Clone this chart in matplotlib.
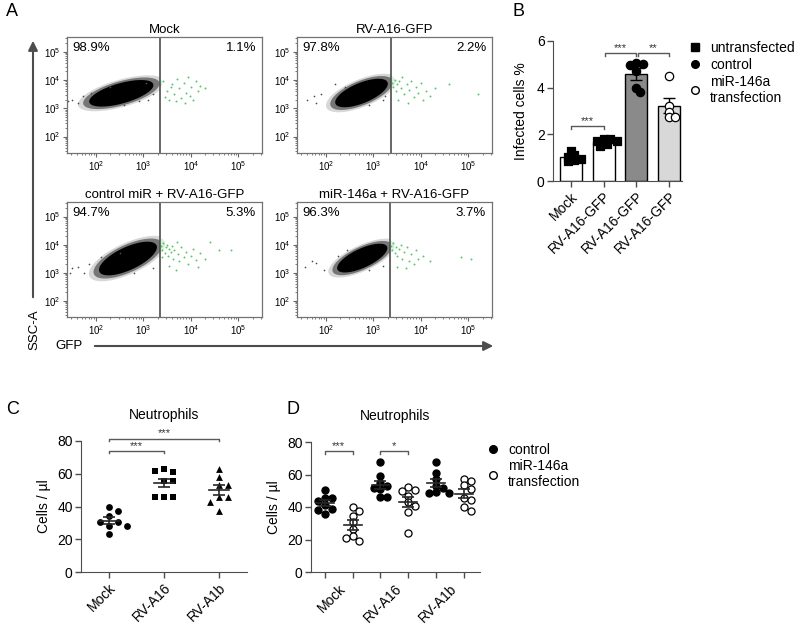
import numpy as np
import matplotlib
matplotlib.use('Agg')
import matplotlib.pyplot as plt
from matplotlib.lines import Line2D
from matplotlib.patches import Rectangle, FancyArrowPatch

plt.rcParams['font.family'] = ['Liberation Sans', 'DejaVu Sans']
plt.rcParams['mathtext.fontset'] = 'custom'
plt.rcParams['mathtext.rm'] = 'Liberation Sans'
plt.rcParams['mathtext.it'] = 'Liberation Sans'

# ---- panel A: flow plots (log10 units) ----
flow_titles = ["Mock", "RV-A16-GFP", "control miR + RV-A16-GFP", "miR-146a + RV-A16-GFP"]
neg_pct = ["98.9%", "97.8%", "94.7%", "96.3%"]
pos_pct = ["1.1%", "2.2%", "5.3%", "3.7%"]
gate_x = [3.34, 3.38, 3.34, 3.34]
# cloud outline: tail point, head point, vertical half thickness
cloud_tail = [(1.62, 3.14), (2.0, 3.1), (1.85, 2.96), (2.05, 3.04)]
cloud_head = [(3.45, 3.92), (3.5, 3.98), (3.5, 4.05), (3.48, 4.0)]
cloud_half = [0.5, 0.52, 0.6, 0.5]

green_x = [
    [3.42, 3.5, 3.55, 3.6, 3.65, 3.7, 3.75, 3.8, 3.85, 3.9, 3.95, 4.0, 4.05, 4.1, 4.15, 4.2, 3.45, 3.58, 3.88, 4.3, 3.68, 3.98],
    [3.4, 3.42, 3.45, 3.48, 3.5, 3.55, 3.58, 3.6, 3.65, 3.7, 3.75, 3.8, 3.85, 3.9, 3.95, 4.0, 4.05, 4.1, 4.2, 4.3, 3.52, 3.72, 5.2, 4.6],
    [3.38, 3.4, 3.42, 3.45, 3.47, 3.5, 3.52, 3.55, 3.58, 3.6, 3.62, 3.65, 3.7, 3.72, 3.75, 3.8, 3.85, 3.9, 3.95, 4.0,
     4.05, 4.1, 4.15, 4.2, 4.3, 3.55, 3.68, 3.4, 4.6, 4.85, 4.4],
    [3.38, 3.4, 3.42, 3.45, 3.48, 3.5, 3.55, 3.58, 3.6, 3.65, 3.7, 3.75, 3.8, 3.85, 3.9, 3.95, 3.5, 3.68, 4.05, 4.2, 4.85, 5.05],
]
green_y = [
    [3.95, 3.6, 3.3, 3.85, 3.5, 4.05, 3.7, 3.35, 3.9, 3.55, 4.1, 3.75, 3.3, 3.95, 3.6, 3.8, 3.4, 3.75, 3.2, 3.7, 3.25, 3.45],
    [3.9, 3.75, 4.0, 3.6, 3.85, 3.95, 3.7, 4.1, 3.5, 3.85, 3.65, 3.95, 3.4, 3.75, 3.55, 3.9, 3.3, 3.6, 3.45, 3.7, 3.3, 3.2, 3.5, 3.85],
    [3.95, 3.8, 4.05, 3.7, 3.9, 4.0, 3.6, 3.85, 3.75, 3.95, 3.5, 3.8, 4.1, 3.65, 3.4, 3.9, 3.55, 3.75, 3.3, 3.6,
     3.85, 3.45, 3.2, 3.7, 3.5, 3.25, 3.1, 3.55, 3.8, 3.8, 4.1],
    [3.95, 3.8, 4.05, 3.7, 3.9, 3.6, 3.85, 4.0, 3.5, 3.75, 3.9, 3.4, 3.65, 3.3, 3.8, 3.5, 3.2, 3.15, 3.6, 3.4, 3.55, 3.5],
]
stray_x = [
    [1.42, 1.5, 1.62, 1.72, 3.1, 3.2, 2.6, 2.9, 1.9, 2.3, 3.05],
    [1.6, 1.75, 1.8, 1.9, 3.2, 2.9, 2.4, 3.25, 2.2],
    [1.45, 1.5, 1.62, 1.75, 1.85, 3.2, 2.8, 2.5, 2.1],
    [1.55, 1.7, 1.8, 1.95, 3.2, 2.9, 2.45, 2.25],
]
stray_y = [
    [3.25, 3.3, 3.18, 3.45, 3.3, 3.5, 3.1, 3.25, 3.55, 3.75, 3.9],
    [3.3, 3.45, 3.2, 3.5, 3.3, 3.1, 3.75, 3.45, 3.85],
    [3.0, 3.15, 3.2, 3.0, 3.3, 3.15, 3.0, 3.7, 3.55],
    [3.2, 3.4, 3.35, 3.1, 3.25, 3.1, 3.8, 3.6],
]

# ---- panel B ----
b_labels = ["Mock", "RV-A16-GFP", "RV-A16-GFP", "RV-A16-GFP"]
b_means = [1.02, 1.68, 4.59, 3.22]
b_sem = [0.07, 0.05, 0.24, 0.32]
b_points = [
    [1.28, 1.1, 1.05, 0.95, 0.9, 0.85],
    [1.8, 1.78, 1.72, 1.7, 1.6, 1.5],
    [5.07, 5.0, 4.96, 4.71, 4.0, 3.81],
    [4.5, 3.2, 2.95, 2.75, 2.75],
]
b_legend = ["untransfected", "control", "miR-146a\ntransfection"]

# ---- panel C ----
c_labels = ["Mock", "RV-A16", "RV-A1b"]
c_points = [
    [40, 37, 34, 30.5, 30.5, 28, 28, 23],
    [63, 61, 61.5, 55.5, 55.5, 46, 46, 46],
    [63, 58, 53, 53, 46, 46, 43, 37.5],
]

# ---- panel D ----
d_labels = ["Mock", "RV-A16", "RV-A1b"]
d_control = [
    [50.5, 45.5, 45.5, 43.5, 41, 39, 38, 36],
    [68, 59, 55, 53, 52, 51, 46, 46],
    [68, 61, 57.5, 53, 51.5, 49.5, 48.5, 48.5],
]
d_mir = [
    [40, 37.5, 34.5, 31, 26.5, 22, 19, 21],
    [52.5, 50.5, 50, 47, 43, 40.5, 37, 24],
    [57.5, 56, 53.5, 51, 45.5, 44.5, 40, 37.5],
]
d_legend = ["control", "miR-146a\ntransfection"]

W, H = 800, 625


def fx(px):
    return px / W


def fy(py):
    return 1 - py / H


def cloud_layer(ax, tail, head, half, scale, color, alpha, clip):
    t = np.linspace(0, 2 * np.pi, 120)
    c = (np.array(tail) + np.array(head)) / 2
    u = (np.array(head) - np.array(tail)) / 2 * scale
    poly, = ax.fill(c[0] + np.cos(t) * u[0], c[1] + np.cos(t) * u[1] + np.sin(t) * half * scale,
                    color=color, alpha=alpha, lw=0)
    poly.set_clip_path(clip)


def swarm(vals, dx, dy):
    placed = []
    offs = []
    cands = [0.0]
    for i in range(1, 12):
        cands += [i * dx / 2, -i * dx / 2]
    for v in vals:
        for o in cands:
            if all(((o - po) / dx) ** 2 + ((v - pv) / dy) ** 2 >= 1 for po, pv in placed):
                break
        placed.append((o, v))
        offs.append(o)
    return np.array(offs)


def bracket(ax, x1, x2, y, txt, tick):
    ax.plot([x1, x1, x2, x2], [y - tick, y, y, y - tick], color='0.35', lw=1, clip_on=False)
    ax.text((x1 + x2) / 2, y, txt, ha='center', va='bottom', fontsize=8, color='0.2')


fig = plt.figure(figsize=(8, 6.25), dpi=100)

# ---------------- A ----------------
boxes = [(67, 37, 262, 153), (297, 37, 492, 153), (67, 202, 262, 317), (297, 202, 492, 317)]
for i, (l, t, r, b) in enumerate(boxes):
    ax = fig.add_axes([fx(l), fy(b), fx(r) - fx(l), fy(t) - fy(b)])
    left_clip = Rectangle((0, 0), gate_x[i], 6, transform=ax.transData)
    right_clip = Rectangle((gate_x[i], 0), 3, 6, transform=ax.transData)
    cloud_layer(ax, cloud_tail[i], cloud_head[i], cloud_half[i], 1.0, '0.3', 0.22, left_clip)
    cloud_layer(ax, cloud_tail[i], cloud_head[i], cloud_half[i], 0.88, '0.15', 0.55, left_clip)
    cloud_layer(ax, cloud_tail[i], cloud_head[i], cloud_half[i], 0.74, 'black', 1.0, left_clip)
    cloud_layer(ax, cloud_tail[i], cloud_head[i], cloud_half[i], 0.95, '#5cc46a', 0.25, right_clip)
    ax.scatter(stray_x[i], stray_y[i], s=1.5, color='0.3', lw=0)
    ax.scatter(green_x[i], green_y[i], s=2.0, color='#5cc46a', lw=0)
    ax.axvline(gate_x[i], color='0.3', lw=1.2)
    ax.set_xlim(1.39, 5.5)
    ax.set_ylim(1.42, 5.52)
    ax.set_xticks([2, 3, 4, 5])
    ax.set_xticklabels([r'$10^{%d}$' % k for k in [2, 3, 4, 5]])
    ax.set_yticks([2, 3, 4, 5])
    ax.set_yticklabels([r'$10^{%d}$' % k for k in [2, 3, 4, 5]])
    minor = [np.log10(m * 10.0 ** n) for n in range(1, 6) for m in range(2, 10)]
    ax.set_xticks([m for m in minor if 1.39 < m < 5.5], minor=True)
    ax.set_yticks([m for m in minor if 1.42 < m < 5.52], minor=True)
    ax.tick_params(which='major', direction='out', length=3, width=0.8, labelsize=7, color='0.4', pad=1.5)
    ax.tick_params(which='minor', direction='out', length=1.5, width=0.6, color='0.4')
    for s in ax.spines.values():
        s.set_color('0.45')
        s.set_linewidth(0.9)
    ax.set_title(flow_titles[i], fontsize=9.5, pad=3)
    ax.text(0.03, 0.96, neg_pct[i], transform=ax.transAxes, ha='left', va='top', fontsize=9.5)
    ax.text(0.97, 0.96, pos_pct[i], transform=ax.transAxes, ha='right', va='top', fontsize=9.5)

fig.add_artist(FancyArrowPatch((fx(33), fy(300)), (fx(33), fy(38)), transform=fig.transFigure,
                               arrowstyle='-|>', mutation_scale=14, color='0.3', lw=1.5))
fig.add_artist(FancyArrowPatch((fx(92), fy(346)), (fx(496), fy(346)), transform=fig.transFigure,
                               arrowstyle='-|>', mutation_scale=14, color='0.3', lw=1.5))
fig.text(fx(34), fy(330), 'SSC-A', rotation=90, ha='center', va='center', fontsize=9.5)
fig.text(fx(55), fy(346), 'GFP', ha='left', va='center', fontsize=9.5)

# ---------------- B ----------------
axb = fig.add_axes([fx(553), fy(181), fx(682) - fx(553), fy(41) - fy(181)])
b_fill = ['white', 'white', '#8a8a8a', '#d8d8d8']
b_mark = ['s', 's', 'o', 'o']
b_face = ['black', 'black', 'black', 'white']
xs = np.arange(len(b_means))
axb.bar(xs, b_means, width=0.68, color=b_fill, edgecolor='black', lw=1, zorder=1)
axb.errorbar(xs, b_means, yerr=b_sem, fmt='none', ecolor='black', capsize=4, elinewidth=1, capthick=1, zorder=2)
for i, pts in enumerate(b_points):
    off = swarm(pts, 0.2, 0.2)
    axb.scatter(i + off, pts, marker=b_mark[i], s=36, facecolor=b_face[i], edgecolor='black', lw=0.9, zorder=3,
                clip_on=False)
bracket(axb, 0, 1, 2.36, '***', 0.12)
bracket(axb, 1.05, 2, 5.49, '***', 0.12)
bracket(axb, 2.05, 3, 5.49, '**', 0.12)
axb.set_xlim(-0.55, 3.4)
axb.set_ylim(0, 6)
axb.set_yticks([0, 2, 4, 6])
axb.set_xticks(xs)
axb.set_xticklabels(b_labels, rotation=45, ha='right', rotation_mode='anchor')
axb.tick_params(labelsize=10, length=4, width=1, color='0.3', pad=2)
axb.spines['top'].set_visible(False)
axb.spines['right'].set_visible(False)
for s in ['left', 'bottom']:
    axb.spines[s].set_color('0.3')
axb.set_ylabel('Infected cells %', fontsize=10, labelpad=6)
hb = [Line2D([], [], marker='s', ls='', color='black', ms=5.5),
      Line2D([], [], marker='o', ls='', color='black', ms=5.5),
      Line2D([], [], marker='o', ls='', mfc='white', mec='black', ms=5.5)]
fig.legend(hb, b_legend, loc='upper left', bbox_to_anchor=(fx(688), fy(41)), frameon=False, fontsize=10,
           handlelength=1, handletextpad=0.6, labelspacing=0.2, borderaxespad=0, borderpad=0)

# ---------------- C ----------------
axc = fig.add_axes([fx(81), fy(572), fx(247) - fx(81), fy(441) - fy(572)])
c_mark = ['o', 's', '^']
for i, pts in enumerate(c_points):
    off = swarm(pts, 0.16, 4.5)
    axc.scatter(i + off, pts, marker=c_mark[i], s=24, color='black', lw=0, zorder=3)
    m = np.mean(pts)
    se = np.std(pts, ddof=1) / np.sqrt(len(pts))
    axc.plot([i - 0.18, i + 0.18], [m, m], color='0.15', lw=1.2, zorder=4)
    axc.errorbar(i, m, yerr=se, fmt='none', ecolor='0.15', capsize=4, elinewidth=1.2, capthick=1.2, zorder=4)
bracket(axc, 0, 1, 74, '***', 1.6)
bracket(axc, 0, 2, 81.5, '***', 1.6)
axc.set_xlim(-0.51, 2.51)
axc.set_ylim(0, 80)
axc.set_yticks([0, 20, 40, 60, 80])
axc.set_xticks(range(3))
axc.set_xticklabels(c_labels, rotation=45, ha='right', rotation_mode='anchor')
axc.tick_params(labelsize=10, length=4, width=1, color='0.3', pad=2)
axc.spines['top'].set_visible(False)
axc.spines['right'].set_visible(False)
for s in ['left', 'bottom']:
    axc.spines[s].set_color('0.3')
axc.set_ylabel('Cells / µl', fontsize=10)
axc.set_title('Neutrophils', fontsize=10, pad=16)

# ---------------- D ----------------
axd = fig.add_axes([fx(311), fy(572), fx(480) - fx(311), fy(442) - fy(572)])
for g in range(3):
    for j, (pts, face) in enumerate([(d_control[g], 'black'), (d_mir[g], 'white')]):
        x0 = 2 * g + j
        off = swarm(pts, 0.24, 3.5)
        axd.scatter(x0 + off, pts, marker='o', s=26, facecolor=face, edgecolor='black', lw=0.9, zorder=3)
        m = np.mean(pts)
        se = np.std(pts, ddof=1) / np.sqrt(len(pts))
        axd.plot([x0 - 0.32, x0 + 0.32], [m, m], color='0.15', lw=1.2, zorder=4)
        axd.errorbar(x0, m, yerr=se, fmt='none', ecolor='0.15', capsize=4, elinewidth=1.2, capthick=1.2, zorder=4)
bracket(axd, 0, 1, 74.5, '***', 1.6)
bracket(axd, 2, 3, 74.5, '*', 1.6)
axd.set_xlim(-0.5, 5.58)
axd.set_ylim(0, 80)
axd.set_yticks([0, 20, 40, 60, 80])
axd.set_xticks(range(6))
axd.set_xticklabels([])
axd.set_xticks([0.5, 2.5, 4.5], minor=True)
axd.set_xticklabels(d_labels, minor=True, rotation=45, ha='right', rotation_mode='anchor')
axd.tick_params(which='major', labelsize=10, length=4, width=1, color='0.3', pad=2)
axd.tick_params(which='minor', labelsize=10, length=0, pad=7)
axd.spines['top'].set_visible(False)
axd.spines['right'].set_visible(False)
for s in ['left', 'bottom']:
    axd.spines[s].set_color('0.3')
axd.set_ylabel('Cells / µl', fontsize=10)
axd.set_title('Neutrophils', fontsize=10, pad=16)
hd = [Line2D([], [], marker='o', ls='', color='black', ms=5.5),
      Line2D([], [], marker='o', ls='', mfc='white', mec='black', ms=5.5)]
fig.legend(hd, d_legend, loc='upper left', bbox_to_anchor=(fx(486), fy(443)), frameon=False, fontsize=10,
           handlelength=1, handletextpad=0.6, labelspacing=0.15, borderaxespad=0, borderpad=0)

# panel letters
for letter, px, py in [('A', 6, 12), ('B', 513, 12), ('C', 6, 410), ('D', 287, 410)]:
    fig.text(fx(px), fy(py), letter, fontsize=13, ha='left', va='center')

fig.savefig('out.png', dpi=100)
